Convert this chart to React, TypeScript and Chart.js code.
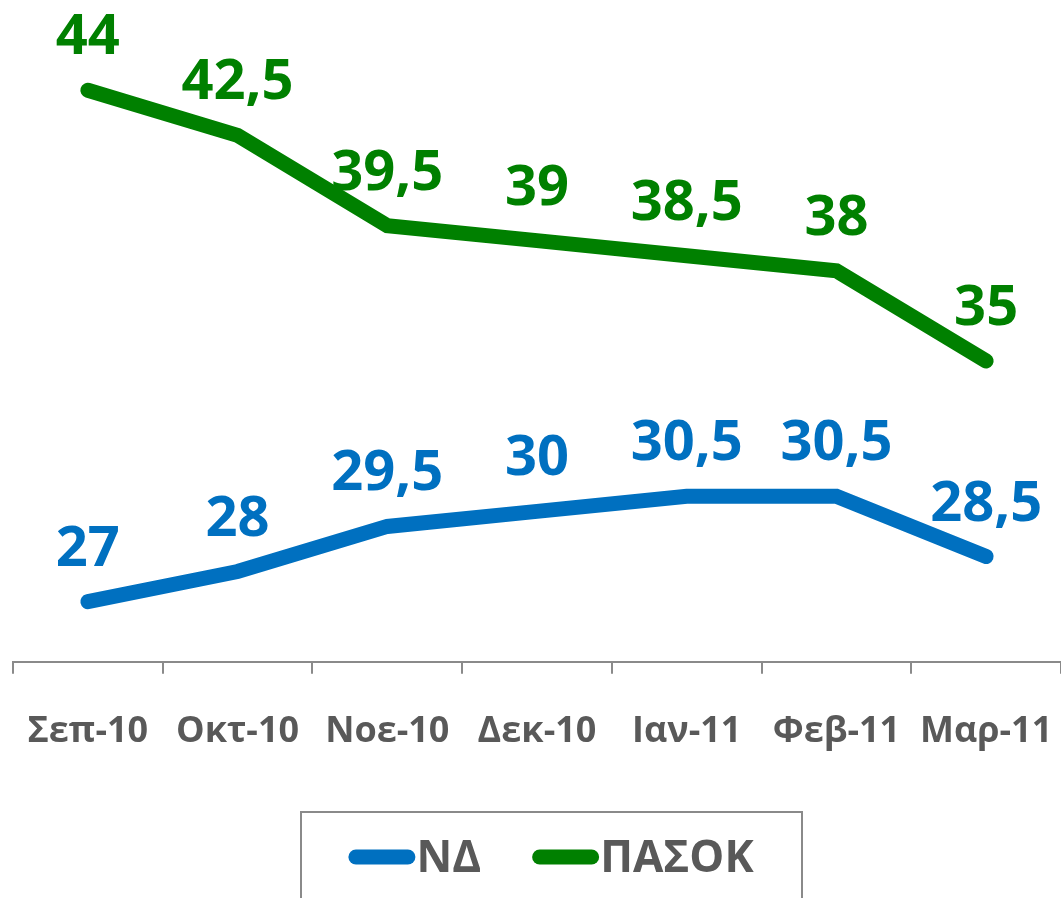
import React, { useEffect, useRef } from "react";
import { Chart, registerables } from "chart.js";

Chart.register(...registerables);

const categories = ["Σεπ-10", "Οκτ-10", "Νοε-10", "Δεκ-10", "Ιαν-11", "Φεβ-11", "Μαρ-11"];
const ndValues = [27, 28, 29.5, 30, 30.5, 30.5, 28.5];
const pasokValues = [44, 42.5, 39.5, 39, 38.5, 38, 35];
const seriesNames = ["ΝΔ", "ΠΑΣΟΚ"];
const seriesColors = ["#0070C0", "#008000"];
const yMin = 25;
const yMax = 47;

const FONT = "'Open Sans', sans-serif";
const TEXT_GREY = "#595959";
const AXIS_GREY = "#8a8a8a";

const valueLabelPlugin = {
  id: "valueLabels",
  afterDatasetsDraw(chart: any) {
    const ctx = chart.ctx;
    ctx.save();
    ctx.font = `bold 56px ${FONT}`;
    ctx.textAlign = "center";
    ctx.textBaseline = "alphabetic";
    chart.data.datasets.forEach((ds: any, i: number) => {
      const meta = chart.getDatasetMeta(i);
      ctx.fillStyle = ds.borderColor;
      meta.data.forEach((pt: any, j: number) => {
        const txt = String(ds.data[j]).replace(".", ",");
        ctx.fillText(txt, pt.x, pt.y - 36);
      });
    });
    ctx.restore();
  },
};

const boxLegendPlugin = {
  id: "boxLegend",
  afterDraw(chart: any) {
    const ctx = chart.ctx;
    ctx.save();
    ctx.strokeStyle = AXIS_GREY;
    ctx.lineWidth = 2;
    ctx.strokeRect(301, 812, 501, 140);
    ctx.font = `bold 44px ${FONT}`;
    const lineLen = 67;
    const gapAfterLine = 1;
    const itemGap = 51;
    const items = chart.data.datasets.map((ds: any) => ({
      label: ds.label,
      color: ds.borderColor,
      w: ctx.measureText(ds.label).width,
    }));
    const total =
      items.reduce((s: number, it: any) => s + lineLen + gapAfterLine + it.w, 0) +
      itemGap * (items.length - 1);
    let x = 551 - total / 2;
    const y = 857;
    for (const it of items) {
      ctx.strokeStyle = it.color;
      ctx.lineWidth = 15;
      ctx.lineCap = "round";
      ctx.beginPath();
      ctx.moveTo(x + 7.5, y);
      ctx.lineTo(x + lineLen - 7.5, y);
      ctx.stroke();
      ctx.fillStyle = TEXT_GREY;
      ctx.textAlign = "left";
      ctx.textBaseline = "alphabetic";
      ctx.fillText(it.label, x + lineLen + gapAfterLine, 872);
      x += lineLen + gapAfterLine + it.w + itemGap;
    }
    ctx.restore();
  },
};

export default function App() {
  const canvasRef = useRef<HTMLCanvasElement | null>(null);

  useEffect(() => {
    document.body.style.margin = "0";
    const canvas = canvasRef.current;
    if (!canvas) return;
    const chart = new Chart(canvas, {
      type: "line",
      data: {
        labels: categories,
        datasets: [
          {
            label: seriesNames[0],
            data: ndValues,
            borderColor: seriesColors[0],
            backgroundColor: seriesColors[0],
            borderWidth: 15,
            borderCapStyle: "round",
            borderJoinStyle: "miter",
            pointRadius: 0,
            tension: 0,
          },
          {
            label: seriesNames[1],
            data: pasokValues,
            borderColor: seriesColors[1],
            backgroundColor: seriesColors[1],
            borderWidth: 15,
            borderCapStyle: "round",
            borderJoinStyle: "miter",
            pointRadius: 0,
            tension: 0,
          },
        ],
      },
      options: {
        animation: false,
        responsive: false,
        devicePixelRatio: 1,
        layout: { padding: { left: 13, right: 0, top: 0, bottom: 109 } },
        plugins: {
          legend: { display: false },
          tooltip: { enabled: false },
        },
        scales: {
          x: {
            type: "category",
            offset: true,
            afterFit(scale: any) {
              scale.paddingLeft = 0;
              scale.paddingRight = 0;
            },
            grid: {
              offset: true,
              drawOnChartArea: false,
              drawTicks: true,
              tickLength: 12,
              color: AXIS_GREY,
              lineWidth: 2,
            },
            border: { display: true, color: AXIS_GREY, width: 2 },
            ticks: {
              color: TEXT_GREY,
              font: { family: FONT, size: 36, weight: "bold" },
              padding: 36,
              maxRotation: 0,
              autoSkip: false,
            },
          },
          y: {
            display: false,
            min: yMin,
            max: yMax,
          },
        },
      },
      plugins: [valueLabelPlugin, boxLegendPlugin],
    } as any);
    return () => chart.destroy();
  }, []);

  return (
    <div style={{ position: "fixed", left: 0, top: 0, width: 1061, height: 898 }}>
      <canvas ref={canvasRef} width={1061} height={898} style={{ display: "block" }} />
    </div>
  );
}
